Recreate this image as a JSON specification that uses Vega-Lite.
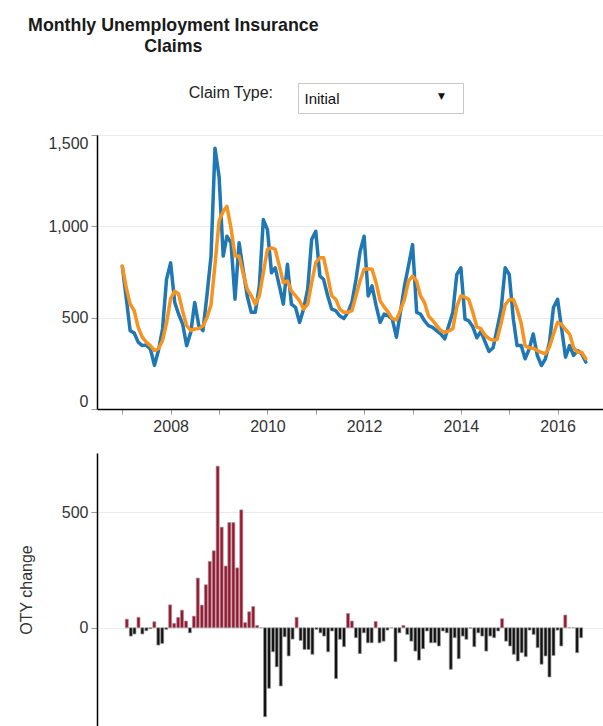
{
  "$schema": "https://vega.github.io/schema/vega-lite/v6.json",
  "padding": {"left": 18, "top": 16, "right": 0, "bottom": 0},
  "background": "white",
  "title": {
    "text": ["Monthly Unemployment Insurance", "Claims"],
    "anchor": "start",
    "frame": "bounds",
    "align": "center",
    "dx": 155,
    "font": "Liberation Sans",
    "fontSize": 17.8,
    "fontWeight": "bold",
    "color": "#1a1a1a",
    "lineHeight": 21,
    "offset": 27
  },
  "datasets": {
    "control": [{"label": "Claim Type:", "claim_type": "Initial"}],
    "claims": [
      {"date": "2007-01-01", "claims": 782, "avg": 782, "oty": 37},
      {"date": "2007-02-01", "claims": 601, "avg": 660, "oty": -36},
      {"date": "2007-03-01", "claims": 429, "avg": 575, "oty": -27},
      {"date": "2007-04-01", "claims": 416, "avg": 538, "oty": 45},
      {"date": "2007-05-01", "claims": 366, "avg": 447, "oty": -27},
      {"date": "2007-06-01", "claims": 347, "avg": 393, "oty": -13},
      {"date": "2007-07-01", "claims": 351, "avg": 366, "oty": -4},
      {"date": "2007-08-01", "claims": 329, "avg": 347, "oty": 26},
      {"date": "2007-09-01", "claims": 239, "avg": 320, "oty": -75},
      {"date": "2007-10-01", "claims": 320, "avg": 330, "oty": -68},
      {"date": "2007-11-01", "claims": 438, "avg": 375, "oty": -7},
      {"date": "2007-12-01", "claims": 710, "avg": 470, "oty": 99},
      {"date": "2008-01-01", "claims": 800, "avg": 605, "oty": 19},
      {"date": "2008-02-01", "claims": 583, "avg": 645, "oty": 45},
      {"date": "2008-03-01", "claims": 520, "avg": 630, "oty": 76},
      {"date": "2008-04-01", "claims": 465, "avg": 535, "oty": 29},
      {"date": "2008-05-01", "claims": 347, "avg": 456, "oty": -22},
      {"date": "2008-06-01", "claims": 420, "avg": 430, "oty": 50},
      {"date": "2008-07-01", "claims": 583, "avg": 438, "oty": 215},
      {"date": "2008-08-01", "claims": 456, "avg": 440, "oty": 98},
      {"date": "2008-09-01", "claims": 429, "avg": 455, "oty": 186},
      {"date": "2008-10-01", "claims": 620, "avg": 500, "oty": 287},
      {"date": "2008-11-01", "claims": 837, "avg": 570, "oty": 333},
      {"date": "2008-12-01", "claims": 1427, "avg": 790, "oty": 699},
      {"date": "2009-01-01", "claims": 1272, "avg": 1030, "oty": 435},
      {"date": "2009-02-01", "claims": 837, "avg": 1082, "oty": 267},
      {"date": "2009-03-01", "claims": 946, "avg": 1109, "oty": 455},
      {"date": "2009-04-01", "claims": 910, "avg": 991, "oty": 455},
      {"date": "2009-05-01", "claims": 601, "avg": 837, "oty": 259},
      {"date": "2009-06-01", "claims": 910, "avg": 837, "oty": 510},
      {"date": "2009-07-01", "claims": 764, "avg": 746, "oty": 22},
      {"date": "2009-08-01", "claims": 620, "avg": 656, "oty": 69},
      {"date": "2009-09-01", "claims": 529, "avg": 620, "oty": 92},
      {"date": "2009-10-01", "claims": 529, "avg": 574, "oty": 10},
      {"date": "2009-11-01", "claims": 674, "avg": 620, "oty": 0},
      {"date": "2009-12-01", "claims": 1037, "avg": 746, "oty": -385},
      {"date": "2010-01-01", "claims": 982, "avg": 874, "oty": -262},
      {"date": "2010-02-01", "claims": 746, "avg": 882, "oty": -104},
      {"date": "2010-03-01", "claims": 773, "avg": 874, "oty": -169},
      {"date": "2010-04-01", "claims": 674, "avg": 782, "oty": -252},
      {"date": "2010-05-01", "claims": 574, "avg": 692, "oty": -39},
      {"date": "2010-06-01", "claims": 792, "avg": 701, "oty": -122},
      {"date": "2010-07-01", "claims": 574, "avg": 647, "oty": -49},
      {"date": "2010-08-01", "claims": 556, "avg": 620, "oty": 45},
      {"date": "2010-09-01", "claims": 474, "avg": 592, "oty": -55},
      {"date": "2010-10-01", "claims": 547, "avg": 547, "oty": -94},
      {"date": "2010-11-01", "claims": 656, "avg": 574, "oty": -94},
      {"date": "2010-12-01", "claims": 928, "avg": 692, "oty": -115},
      {"date": "2011-01-01", "claims": 973, "avg": 801, "oty": -7},
      {"date": "2011-02-01", "claims": 728, "avg": 828, "oty": -22},
      {"date": "2011-03-01", "claims": 710, "avg": 828, "oty": -36},
      {"date": "2011-04-01", "claims": 620, "avg": 728, "oty": -104},
      {"date": "2011-05-01", "claims": 547, "avg": 620, "oty": -14},
      {"date": "2011-06-01", "claims": 538, "avg": 601, "oty": -220},
      {"date": "2011-07-01", "claims": 510, "avg": 547, "oty": -50},
      {"date": "2011-08-01", "claims": 496, "avg": 529, "oty": -82},
      {"date": "2011-09-01", "claims": 529, "avg": 529, "oty": 62},
      {"date": "2011-10-01", "claims": 583, "avg": 538, "oty": 29},
      {"date": "2011-11-01", "claims": 710, "avg": 620, "oty": -43},
      {"date": "2011-12-01", "claims": 860, "avg": 700, "oty": -112},
      {"date": "2012-01-01", "claims": 946, "avg": 765, "oty": -22},
      {"date": "2012-02-01", "claims": 619, "avg": 768, "oty": -65},
      {"date": "2012-03-01", "claims": 674, "avg": 765, "oty": -65},
      {"date": "2012-04-01", "claims": 565, "avg": 690, "oty": 27},
      {"date": "2012-05-01", "claims": 474, "avg": 592, "oty": -65},
      {"date": "2012-06-01", "claims": 520, "avg": 558, "oty": -58},
      {"date": "2012-07-01", "claims": 511, "avg": 530, "oty": -10},
      {"date": "2012-08-01", "claims": 492, "avg": 495, "oty": 0},
      {"date": "2012-09-01", "claims": 393, "avg": 488, "oty": -147},
      {"date": "2012-10-01", "claims": 529, "avg": 540, "oty": -22},
      {"date": "2012-11-01", "claims": 674, "avg": 600, "oty": 10},
      {"date": "2012-12-01", "claims": 783, "avg": 700, "oty": -29},
      {"date": "2013-01-01", "claims": 900, "avg": 728, "oty": -58},
      {"date": "2013-02-01", "claims": 529, "avg": 700, "oty": -101},
      {"date": "2013-03-01", "claims": 520, "avg": 620, "oty": -140},
      {"date": "2013-04-01", "claims": 483, "avg": 583, "oty": -91},
      {"date": "2013-05-01", "claims": 456, "avg": 510, "oty": -14},
      {"date": "2013-06-01", "claims": 447, "avg": 485, "oty": -65},
      {"date": "2013-07-01", "claims": 429, "avg": 458, "oty": -65},
      {"date": "2013-08-01", "claims": 411, "avg": 430, "oty": -79},
      {"date": "2013-09-01", "claims": 384, "avg": 420, "oty": -14},
      {"date": "2013-10-01", "claims": 456, "avg": 427, "oty": -22},
      {"date": "2013-11-01", "claims": 529, "avg": 440, "oty": -180},
      {"date": "2013-12-01", "claims": 737, "avg": 560, "oty": -43},
      {"date": "2014-01-01", "claims": 773, "avg": 620, "oty": -134},
      {"date": "2014-02-01", "claims": 492, "avg": 612, "oty": -36},
      {"date": "2014-03-01", "claims": 483, "avg": 600, "oty": -50},
      {"date": "2014-04-01", "claims": 450, "avg": 530, "oty": -2},
      {"date": "2014-05-01", "claims": 390, "avg": 450, "oty": -82},
      {"date": "2014-06-01", "claims": 425, "avg": 440, "oty": -22},
      {"date": "2014-07-01", "claims": 370, "avg": 405, "oty": -36},
      {"date": "2014-08-01", "claims": 315, "avg": 385, "oty": -101},
      {"date": "2014-09-01", "claims": 335, "avg": 376, "oty": -36},
      {"date": "2014-10-01", "claims": 438, "avg": 380, "oty": -43},
      {"date": "2014-11-01", "claims": 547, "avg": 470, "oty": -14},
      {"date": "2014-12-01", "claims": 773, "avg": 570, "oty": 39},
      {"date": "2015-01-01", "claims": 737, "avg": 598, "oty": -58},
      {"date": "2015-02-01", "claims": 492, "avg": 600, "oty": -79},
      {"date": "2015-03-01", "claims": 347, "avg": 547, "oty": -115},
      {"date": "2015-04-01", "claims": 347, "avg": 470, "oty": -144},
      {"date": "2015-05-01", "claims": 275, "avg": 345, "oty": -108},
      {"date": "2015-06-01", "claims": 329, "avg": 335, "oty": -125},
      {"date": "2015-07-01", "claims": 411, "avg": 333, "oty": -10},
      {"date": "2015-08-01", "claims": 293, "avg": 320, "oty": -29},
      {"date": "2015-09-01", "claims": 238, "avg": 310, "oty": -86},
      {"date": "2015-10-01", "claims": 275, "avg": 302, "oty": -158},
      {"date": "2015-11-01", "claims": 365, "avg": 340, "oty": -122},
      {"date": "2015-12-01", "claims": 556, "avg": 410, "oty": -213},
      {"date": "2016-01-01", "claims": 601, "avg": 475, "oty": -120},
      {"date": "2016-02-01", "claims": 438, "avg": 462, "oty": -10},
      {"date": "2016-03-01", "claims": 284, "avg": 435, "oty": -79},
      {"date": "2016-04-01", "claims": 347, "avg": 410, "oty": 55},
      {"date": "2016-05-01", "claims": 293, "avg": 335, "oty": 0},
      {"date": "2016-06-01", "claims": 320, "avg": 311, "oty": 0},
      {"date": "2016-07-01", "claims": 302, "avg": 311, "oty": -108},
      {"date": "2016-08-01", "claims": 257, "avg": 275, "oty": -43}
    ]
  },
  "spacing": 20,
  "vconcat": [
    {
      "spacing": 24,
      "hconcat": [
        {
          "width": 176,
          "height": 30,
          "data": {"name": "control"},
          "mark": {"type": "text", "align": "right", "baseline": "middle", "fontSize": 16, "color": "#222", "dy": -5},
          "encoding": {"x": {"value": "width"}, "text": {"field": "label"}}
        },
        {
          "width": 165,
          "height": 30,
          "data": {"name": "control"},
          "view": {"stroke": "#c8c8c8", "strokeWidth": 1},
          "layer": [
            {
              "mark": {"type": "text", "align": "left", "baseline": "middle", "fontSize": 15, "color": "#111", "dx": -76, "dy": 1},
              "encoding": {"text": {"field": "claim_type"}}
            },
            {
              "mark": {"type": "text", "align": "center", "baseline": "middle", "fontSize": 9, "font": "DejaVu Sans", "color": "#111", "dx": 61, "dy": -2, "text": "▼"},
              "encoding": {}
            }
          ]
        }
      ]
    },
    {
      "spacing": 19,
      "vconcat": [
        {
          "width": 506,
          "height": 274,
          "data": {"name": "claims"},
          "transform": [{"fold": ["claims", "avg"], "as": ["series", "value"]}],
          "mark": {"type": "line", "strokeWidth": 3.5, "strokeJoin": "round", "strokeCap": "round"},
          "encoding": {
            "x": {
              "field": "date",
              "type": "temporal",
              "scale": {"type": "utc", "domain": [{"year": 2006, "month": 6, "date": 24, "utc": true}, {"year": 2016, "month": 12, "date": 9, "utc": true}]},
              "axis": {
                "format": "%Y",
                "tickCount": {"interval": "year", "step": 1},
                "labelExpr": "utcyear(datum.value) % 2 === 0 ? datum.label : ''",
                "grid": false,
                "title": null,
                "labelFlush": false,
                "labelOverlap": false,
                "tickSize": 5,
                "labelPadding": 4
              }
            },
            "y": {
              "field": "value",
              "type": "quantitative",
              "scale": {"domain": [0, 1500], "nice": false},
              "axis": {"values": [0, 500, 1000, 1500], "format": ",.0f", "title": null, "labelFlush": true, "grid": true}
            },
            "color": {
              "field": "series",
              "type": "nominal",
              "scale": {"domain": ["claims", "avg"], "range": ["#1f77b4", "#f7931e"]},
              "legend": null
            }
          }
        },
        {
          "width": 506,
          "height": 273,
          "data": {"name": "claims"},
          "mark": {"type": "bar", "width": 3, "stroke": "#9a9a9a", "strokeWidth": 0.7},
          "encoding": {
            "x": {
              "field": "date",
              "type": "temporal",
              "scale": {"type": "utc", "domain": [{"year": 2006, "month": 6, "date": 24, "utc": true}, {"year": 2016, "month": 12, "date": 9, "utc": true}]},
              "axis": null
            },
            "y": {
              "field": "oty",
              "type": "quantitative",
              "scale": {"domain": [-425, 756], "nice": false, "zero": false},
              "axis": {"values": [0, 500], "title": "OTY change", "titlePadding": 27, "grid": true, "labelFlush": false}
            },
            "fill": {
              "condition": {"test": "datum.oty > 0", "value": "#a3112f"},
              "value": "#111111"
            }
          }
        }
      ]
    }
  ],
  "config": {
    "font": "Liberation Sans",
    "view": {"stroke": null},
    "axis": {
      "labelFont": "Liberation Sans",
      "labelFontSize": 16,
      "labelColor": "#333",
      "titleFont": "Liberation Sans",
      "titleFontSize": 16,
      "titleColor": "#333",
      "titleFontWeight": "normal",
      "domainColor": "#000",
      "domainWidth": 1.5,
      "tickColor": "#999",
      "tickSize": 6,
      "gridColor": "#ebebeb",
      "labelPadding": 3
    }
  }
}
